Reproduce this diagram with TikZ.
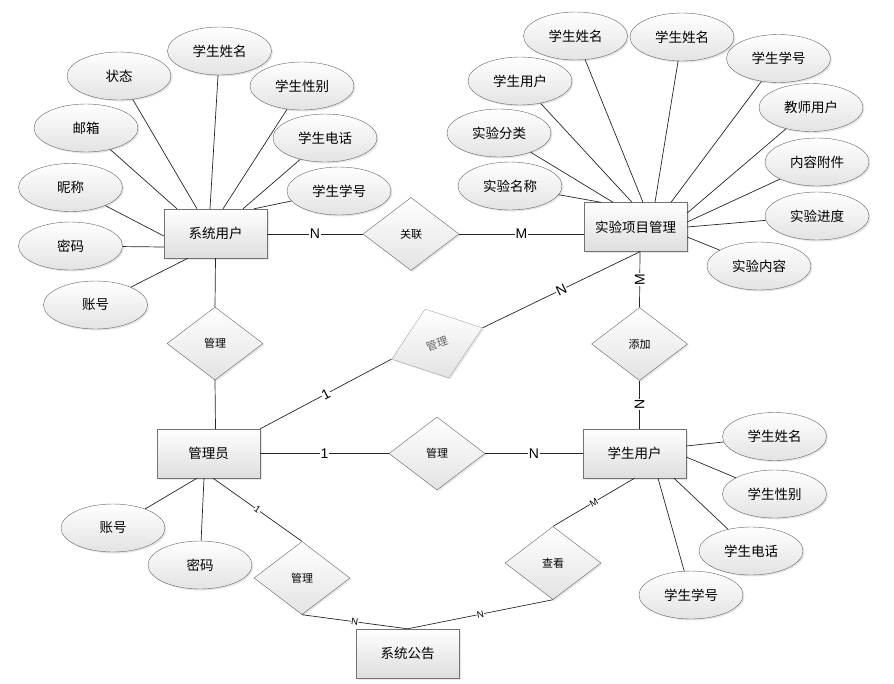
\documentclass[tikz,border=0pt]{standalone}
\usepackage{fontspec}
\setmainfont{Noto Sans CJK SC}
\newfontfamily\latfont{Liberation Sans}
\usetikzlibrary{shapes.geometric,calc,shadows,positioning}

\begin{document}
\begin{tikzpicture}[x=1pt,y=-1pt]
\tikzstyle{sombra}=[drop shadow={opacity=0.2, shadow xshift=1.5pt, shadow yshift=-1.5pt}]
\tikzstyle{entidad}=[rectangle, draw=black!55, top color=white, bottom color=black!13, minimum width=103pt, minimum height=49pt, font=\fontsize{13.5}{16}\selectfont, sombra]
\tikzstyle{atributo}=[ellipse, draw=black!60, top color=white, bottom color=black!11, minimum width=104pt, minimum height=48pt, inner sep=0pt, font=\fontsize{13.5}{16}\selectfont, sombra]
\tikzstyle{relacion}=[diamond, draw=black!60, top color=white, bottom color=black!11, minimum width=96pt, minimum height=73pt, inner sep=0pt, font=\fontsize{11}{12}\selectfont, sombra]
\tikzstyle{linea}=[draw=black!85, line width=0.7pt]
\tikzstyle{card}=[fill=white, inner sep=0.6pt, font=\latfont\fontsize{14}{14}\selectfont]
\tikzstyle{cardp}=[fill=white, inner sep=0.4pt, font=\latfont\fontsize{9.5}{10}\selectfont]

\useasboundingbox (0,0) rectangle (894,683);

%%%%%%%%%%%%%%%%%%%%%%%%%%%%%%
%%%%%
%%%%% ENTIDADES
\coordinate (e_1) at (215.5,233.5);
\coordinate (e_2) at (635.5,227);
\coordinate (e_3) at (208.5,453.5);
\coordinate (e_4) at (634.5,453.5);
\coordinate (e_5) at (407.5,653.5);

%%%%% RELACIONES
\coordinate (r_1) at (411,234);
\coordinate (r_2) at (215,343.5);
\coordinate (r_3) at (437,343.5);
\coordinate (r_4) at (639.5,344);
\coordinate (r_5) at (437,453.5);
\coordinate (r_6) at (302,578);
\coordinate (r_7) at (553,563);

%%%%% ATRIBUTOS SISTEMA
\coordinate (a_1) at (119,76);
\coordinate (a_2) at (219.5,51);
\coordinate (a_3) at (302,86);
\coordinate (a_4) at (86,128);
\coordinate (a_5) at (325,138);
\coordinate (a_6) at (70.5,187.5);
\coordinate (a_7) at (339,191);
\coordinate (a_8) at (70.5,246);
\coordinate (a_9) at (95.5,305);

%%%%% ATRIBUTOS EXPERIMENTO
\coordinate (b_1) at (575.5,36);
\coordinate (b_2) at (682,37);
\coordinate (b_3) at (778.5,58.5);
\coordinate (b_4) at (520,81);
\coordinate (b_5) at (811,107.5);
\coordinate (b_6) at (499,133);
\coordinate (b_7) at (817,162);
\coordinate (b_8) at (510,186);
\coordinate (b_9) at (817,216);
\coordinate (b_10) at (759,266);

%%%%% ATRIBUTOS ADMIN Y ESTUDIANTE
\coordinate (c_1) at (113,528);
\coordinate (c_2) at (200,565);
\coordinate (d_1) at (774.5,436.5);
\coordinate (d_2) at (774.5,494);
\coordinate (d_3) at (751,551);
\coordinate (d_4) at (691,595);

%%%%%%%%%%%%%%%
%%%%% NODOS
\node[entidad] (e_1) at (e_1) {系统用户};
\node[entidad] (e_2) at (e_2) {实验项目管理};
\node[entidad] (e_3) at (e_3) {管理员};
\node[entidad] (e_4) at (e_4) {学生用户};
\node[entidad] (e_5) at (e_5) {系统公告};

\node[relacion] (r_1) at (r_1) {关联};
\node[relacion] (r_2) at (r_2) {管理};
\node[relacion, rotate=19, draw=black!35, text=black!60] (r_3) at (r_3) {管理};
\node[relacion] (r_4) at (r_4) {添加};
\node[relacion] (r_5) at (r_5) {管理};
\node[relacion] (r_6) at (r_6) {管理};
\node[relacion] (r_7) at (r_7) {查看};

\node[atributo] (a_1) at (a_1) {状态};
\node[atributo] (a_2) at (a_2) {学生姓名};
\node[atributo] (a_3) at (a_3) {学生性别};
\node[atributo] (a_4) at (a_4) {邮箱};
\node[atributo] (a_5) at (a_5) {学生电话};
\node[atributo] (a_6) at (a_6) {昵称};
\node[atributo] (a_7) at (a_7) {学生学号};
\node[atributo] (a_8) at (a_8) {密码};
\node[atributo] (a_9) at (a_9) {账号};

\node[atributo] (b_1) at (b_1) {学生姓名};
\node[atributo] (b_2) at (b_2) {学生姓名};
\node[atributo] (b_3) at (b_3) {学生学号};
\node[atributo] (b_4) at (b_4) {学生用户};
\node[atributo] (b_5) at (b_5) {教师用户};
\node[atributo] (b_6) at (b_6) {实验分类};
\node[atributo] (b_7) at (b_7) {内容附件};
\node[atributo] (b_8) at (b_8) {实验名称};
\node[atributo] (b_9) at (b_9) {实验进度};
\node[atributo] (b_10) at (b_10) {实验内容};

\node[atributo] (c_1) at (c_1) {账号};
\node[atributo] (c_2) at (c_2) {密码};

\node[atributo] (d_1) at (d_1) {学生姓名};
\node[atributo] (d_2) at (d_2) {学生性别};
\node[atributo] (d_3) at (d_3) {学生电话};
\node[atributo] (d_4) at (d_4) {学生学号};

%%%%%%%%%%%%%%%
%%%%% CONEXIONES ATRIBUTOS
\draw[linea] (a_4) -- ($(e_1.north)+(-38.5,0)$);
\draw[linea] (a_1) -- ($(e_1.north)+(-18.5,0)$);
\draw[linea] (a_2) -- ($(e_1.north)+(-5.5,0)$);
\draw[linea] (a_3) -- ($(e_1.north)+(7.5,0)$);
\draw[linea] (a_5) -- ($(e_1.north)+(27.5,0)$);
\draw[linea] (a_7) -- ($(e_1.north)+(38.5,0)$);
\draw[linea] (a_6) -- ($(e_1.west)+(0,2.5)$);
\draw[linea] (a_8) -- ($(e_1.west)+(0,13.5)$);
\draw[linea] (a_9) -- ($(e_1.south)+(-27.5,0)$);

\draw[linea] (b_8) -- ($(e_2.north)+(-34.5,0)$);
\draw[linea] (b_6) -- ($(e_2.north)+(-22.5,0)$);
\draw[linea] (b_4) -- ($(e_2.north)+(-3.5,0)$);
\draw[linea] (b_1) -- ($(e_2.north)+(7.5,0)$);
\draw[linea] (b_2) -- ($(e_2.north)+(19.5,0)$);
\draw[linea] (b_3) -- ($(e_2.north)+(35.5,0)$);
\draw[linea] (b_5) -- ($(e_2.east)+(0,-14)$);
\draw[linea] (b_7) -- ($(e_2.east)+(0,-5)$);
\draw[linea] (b_9) -- (e_2.east);
\draw[linea] (b_10) -- ($(e_2.east)+(0,10)$);

\draw[linea] (c_1) -- ($(e_3.south)+(-11.5,0)$);
\draw[linea] (c_2) -- ($(e_3.south)+(-4.5,0)$);

\draw[linea] (d_1) -- ($(e_4.east)+(0,-7.5)$);
\draw[linea] (d_2) -- ($(e_4.east)+(0,3.5)$);
\draw[linea] (d_3) -- ($(e_4.south)+(39.5,0)$);
\draw[linea] (d_4) -- ($(e_4.south)+(23.5,0)$);

%%%%%%%%%%%%%%%
%%%%% CONEXIONES RELACIONES
\draw[linea] (e_1.east |- r_1) -- node[card] {N} (r_1.west);
\draw[linea] (r_1.east) -- node[card] {M} (r_1.east -| e_2.west);

\draw[linea] (e_1.south) -- (r_2.north);
\draw[linea] (r_2.south) -- ($(e_3.north)+(7,0)$);

\coordinate (p_1) at ($(e_2.south)+(4.5,0)$);
\draw[linea] (e_3.north east) -- node[card, sloped] {1} (r_3.west);
\draw[linea] (r_3.east) -- node[card, sloped] {N} (p_1);

\draw[linea] (p_1) -- node[card, rotate=90] {M} (r_4.north);
\draw[linea] (r_4.south) -- node[card, rotate=90] {N} (r_4.south |- e_4.north);

\draw[linea] (e_3.east) -- node[card] {1} (r_5.west);
\draw[linea] (r_5.east) -- node[card] {N} (e_4.west);

\draw[linea] ($(e_3.south)+(4.5,0)$) -- node[cardp, sloped] {1} (r_6.north);
\draw[linea] (r_6.south) -- node[cardp, sloped] {N} (e_5.north);

\draw[linea] (e_4.south) -- node[cardp, sloped] {M} (r_7.north);
\draw[linea] (r_7.south) -- node[cardp, sloped] {N} (e_5.north);

\end{tikzpicture}
\end{document}
